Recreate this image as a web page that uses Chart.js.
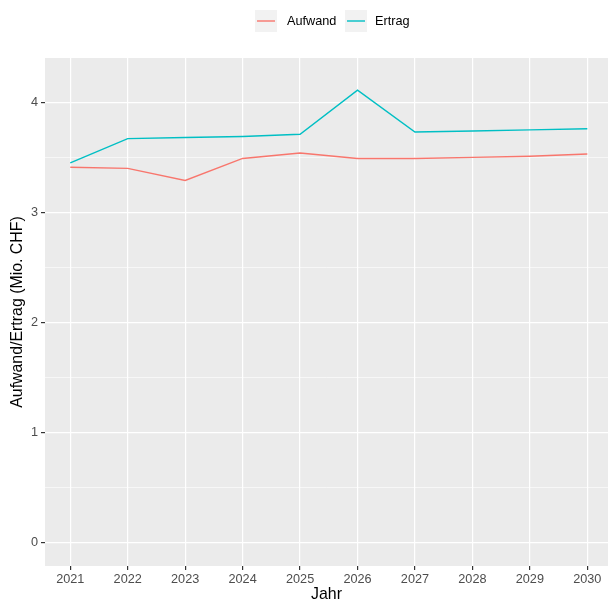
<!DOCTYPE html>
<html>
<head>
<meta charset="utf-8">
<script src="https://cdn.jsdelivr.net/npm/chart.js@4"></script>
<style>
  html, body { margin: 0; padding: 0; background: #fff; }
  #chart { display: block; }
</style>
</head>
<body>
<canvas id="chart" width="608" height="601"></canvas>
<script>
const years = [2021, 2022, 2023, 2024, 2025, 2026, 2027, 2028, 2029, 2030];
const aufwand = [3.41, 3.40, 3.29, 3.49, 3.54, 3.49, 3.49, 3.50, 3.51, 3.53];
const ertrag = [3.45, 3.67, 3.68, 3.69, 3.71, 4.11, 3.73, 3.74, 3.75, 3.76];
const yBreaks = [0, 0.5, 1, 1.5, 2, 2.5, 3, 3.5, 4];
const seriesNames = ['Aufwand', 'Ertrag'];
const seriesColors = ['#F8766D', '#00BFC4'];

const fontFamily = '"Liberation Sans", Arial, sans-serif';
const tickSize = 12.7;
const titleSize = 15.9;

const isMajor = v => Math.abs(v - Math.round(v)) < 1e-9;

// grey panel behind the grid, like ggplot's theme_grey
const panelBg = {
  id: 'panelBg',
  beforeDraw(chart) {
    const { ctx, chartArea: a } = chart;
    ctx.save();
    ctx.fillStyle = '#EBEBEB';
    ctx.fillRect(a.left, a.top, a.right - a.left, a.bottom - a.top);
    ctx.restore();
  }
};

// legend on top with grey key boxes
const topLegend = {
  id: 'topLegend',
  afterDraw(chart) {
    const ctx = chart.ctx;
    const keyX = [255, 345];
    const textX = [287, 375];
    const keySize = 22;
    const keyTop = 10;
    ctx.save();
    chart.data.datasets.forEach((ds, i) => {
      ctx.fillStyle = '#F2F2F2';
      ctx.fillRect(keyX[i], keyTop, keySize, keySize);
      ctx.strokeStyle = ds.borderColor;
      ctx.lineWidth = 1.4;
      ctx.beginPath();
      ctx.moveTo(keyX[i] + 2, keyTop + keySize / 2);
      ctx.lineTo(keyX[i] + keySize - 2, keyTop + keySize / 2);
      ctx.stroke();
      ctx.fillStyle = '#000';
      ctx.font = tickSize + 'px ' + fontFamily;
      ctx.textBaseline = 'middle';
      ctx.textAlign = 'left';
      ctx.fillText(ds.label, textX[i], keyTop + keySize / 2);
    });
    ctx.restore();
  }
};

const ctx = document.getElementById('chart').getContext('2d');
new Chart(ctx, {
  type: 'line',
  data: {
    datasets: [
      {
        label: seriesNames[0],
        data: years.map((y, i) => ({ x: y, y: aufwand[i] })),
        borderColor: seriesColors[0],
        backgroundColor: seriesColors[0],
        borderWidth: 1.4,
        pointRadius: 0,
        tension: 0
      },
      {
        label: seriesNames[1],
        data: years.map((y, i) => ({ x: y, y: ertrag[i] })),
        borderColor: seriesColors[1],
        backgroundColor: seriesColors[1],
        borderWidth: 1.4,
        pointRadius: 0,
        tension: 0
      }
    ]
  },
  options: {
    responsive: false,
    animation: false,
    devicePixelRatio: 1,
    layout: { padding: { top: 58, left: 0, right: 0, bottom: 0 } },
    plugins: {
      legend: { display: false },
      tooltip: { enabled: false }
    },
    scales: {
      x: {
        type: 'linear',
        min: 2020.56,
        max: 2030.36,
        afterBuildTicks: s => { s.ticks = years.map(v => ({ value: v })); },
        afterFit: s => { s.height = 35; },
        border: { display: false },
        grid: {
          color: '#FFFFFF',
          lineWidth: 1.2,
          drawTicks: true,
          tickLength: 4,
          tickColor: '#333333'
        },
        ticks: {
          autoSkip: false,
          maxRotation: 0,
          padding: 2,
          color: '#4D4D4D',
          font: { family: fontFamily, size: tickSize },
          callback: v => String(v)
        },
        title: {
          display: true,
          text: 'Jahr',
          color: '#000',
          font: { family: fontFamily, size: titleSize, lineHeight: 0.75 },
          padding: { top: 0, bottom: 0 }
        }
      },
      y: {
        type: 'linear',
        min: -0.215,
        max: 4.403,
        afterBuildTicks: s => { s.ticks = yBreaks.map(v => ({ value: v })); },
        afterFit: s => { s.width = 45; },
        border: { display: false },
        grid: {
          color: '#FFFFFF',
          lineWidth: c => isMajor(c.tick.value) ? 1.2 : 0.6,
          drawTicks: true,
          tickLength: 4,
          tickColor: c => isMajor(c.tick.value) ? '#333333' : 'rgba(0,0,0,0)'
        },
        ticks: {
          autoSkip: false,
          padding: 3,
          color: '#4D4D4D',
          font: { family: fontFamily, size: tickSize },
          callback: v => isMajor(v) ? String(Math.round(v)) : ''
        },
        title: {
          display: true,
          text: 'Aufwand/Ertrag (Mio. CHF)',
          color: '#000',
          font: { family: fontFamily, size: titleSize, lineHeight: 1.2 },
          padding: { top: 8, bottom: 0 }
        }
      }
    }
  },
  plugins: [panelBg, topLegend]
});
</script>
</body>
</html>
